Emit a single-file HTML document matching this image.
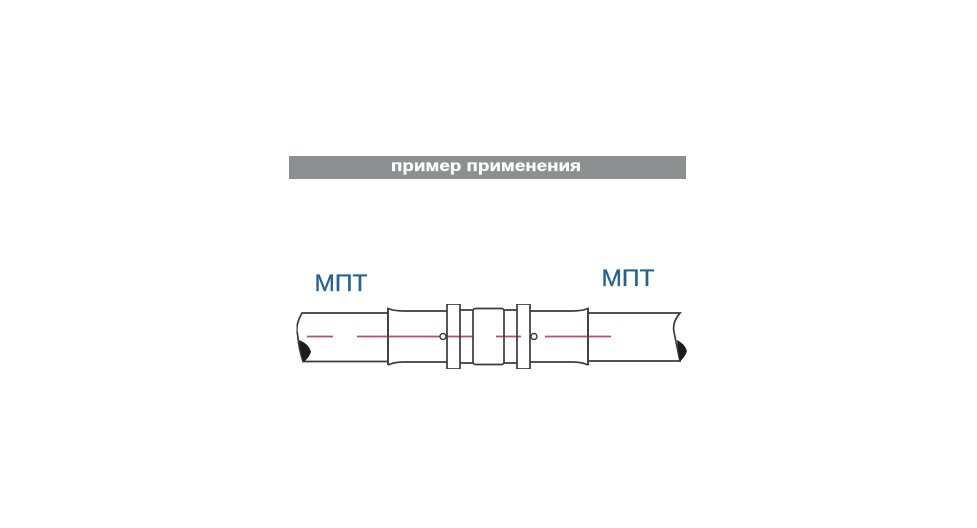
<!DOCTYPE html>
<html><head><meta charset="utf-8"><style>
html,body{margin:0;padding:0;background:#fff;width:977px;height:528px;overflow:hidden}
svg{display:block}
</style></head><body>
<svg width="977" height="528" viewBox="0 0 977 528" xmlns="http://www.w3.org/2000/svg">
<rect width="977" height="528" fill="#fff"/>
<rect x="289" y="156" width="397" height="23" fill="#8e8f91"/>
<text x="391" y="171" font-family="Liberation Sans, sans-serif" font-size="15.5" font-weight="bold" fill="#fff" stroke="#fff" stroke-width="0.3" textLength="190" lengthAdjust="spacingAndGlyphs">пример применения</text>
<g font-family="Liberation Sans, sans-serif" font-size="24" fill="#25628f" stroke="#25628f" stroke-width="0.3">
<text x="314.5" y="291" textLength="53" lengthAdjust="spacingAndGlyphs">МПТ</text>
<text x="601.5" y="286" textLength="53" lengthAdjust="spacingAndGlyphs">МПТ</text>
</g>
<g filter="url(#s)">
<defs><filter id="s" x="0" y="0" width="100%" height="100%"><feGaussianBlur stdDeviation="0.3"/></filter></defs>
<g fill="none" stroke="#3a3a3a" stroke-width="1.7">
<path d="M388 313H302Q295 325 297.500 334Q299 350 303 361.500H388"/>
<path d="M588 313H680Q672 322 674 332Q677 347 680 361H588"/>
<path d="M388 365V308.500Q394 311 404 311H447M447 362H404Q394 362 388 365"/>
<path d="M588 365V308.500Q582 311 572 311H530M530 362H572Q582 362 588 365"/>
<path d="M460 310H473M460 363H473M504 310H517M504 363H517"/>
</g>
<g fill="none" stroke="#b85064" stroke-width="1.8">
<path d="M307 336.500H333M357 336.500H473M496 336.500H521M545 336.500H611"/>
</g>
<g fill="none" stroke="#3a3a3a" stroke-width="1.7">
<rect x="447" y="304" width="13" height="65"/>
<rect x="517" y="304" width="13" height="65"/>
<rect x="473" y="308.500" width="31" height="56" rx="2.500"/>
<path d="M388 308.500V365M588 308.500V365"/>
</g>
<path d="M299 340Q309 344 311 352Q309 358 303.500 362Q300 352 299 340Z" fill="#1a1a1a"/>
<path d="M677 340Q685 344 687 351Q685 357 680 361.500Q678 350 677 340Z" fill="#1a1a1a"/>
<circle cx="443" cy="336.500" r="3" fill="#fff" stroke="#3a3a3a" stroke-width="1.400"/>
<circle cx="534" cy="336.500" r="3" fill="#fff" stroke="#3a3a3a" stroke-width="1.400"/>
</g>
</svg>
</body></html>
